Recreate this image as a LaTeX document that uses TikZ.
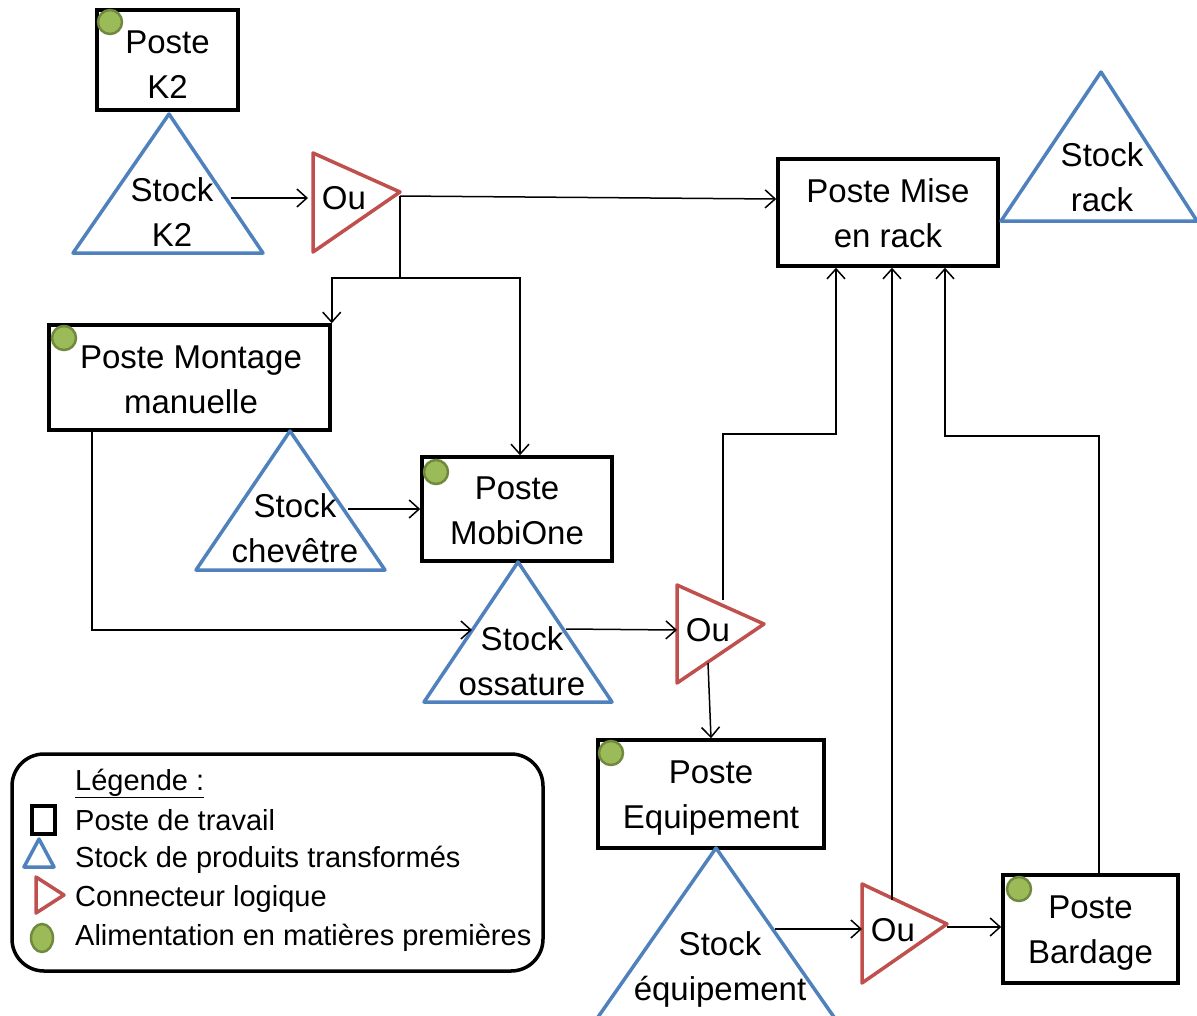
\documentclass[tikz,border=0pt]{standalone}
\usepackage{fontspec}
\setmainfont{Liberation Sans}
\usetikzlibrary{arrows.meta,shapes.geometric}
\definecolor{sblue}{HTML}{4F81BD}
\definecolor{sred}{HTML}{C0504D}
\definecolor{gfill}{HTML}{9BBB59}
\definecolor{gline}{HTML}{71893F}
\begin{document}
\begin{tikzpicture}[x=1pt,y=-1pt,
  box/.style={draw,line width=3.5pt,inner sep=0pt},
  lbl/.style={align=center,inner sep=0pt,font=\fontsize{33}{45}\selectfont},
  leg/.style={anchor=base west,inner sep=0pt,font=\fontsize{29}{35}\selectfont},
  stock/.style={draw=sblue,line width=3.5pt,line join=round},
  logic/.style={draw=sred,line width=3.5pt,line join=round},
  dot/.style={ellipse,fill=gfill,draw=gline,line width=2.5pt,minimum width=24pt,minimum height=24pt,inner sep=0pt},
  arr/.style={line width=1.5pt,-{Straight Barb[length=10pt,width=18pt,line width=1.5pt]}},
  ln/.style={line width=1.5pt}]
\clip (0,0) rectangle (1197,1015);
\useasboundingbox (0,0) rectangle (1197,1015);

% ---------- workstation boxes ----------
\node[box,minimum width=141,minimum height=100] (pk2) at (167.5,60) {};
\node[lbl] (pk2t) at (167.5,65) {Poste\\K2};
\node[box,minimum width=220,minimum height=107] (pmr) at (888,212.5) {};
\node[lbl] (pmrt) at (888,213.5) {Poste Mise\\en rack};
\node[box,minimum width=281,minimum height=105] (pmm) at (189.5,377.5) {};
\node[lbl] (pmmt) at (191,379.5) {Poste Montage\\manuelle};
\node[box,minimum width=190,minimum height=104] (pmo) at (517,509) {};
\node[lbl] (pmot) at (517,511) {Poste\\MobiOne};
\node[box,minimum width=226,minimum height=108] (peq) at (711,794) {};
\node[lbl] (peqt) at (711,798) {Poste\\Equipement};
\node[box,minimum width=175,minimum height=108] (pba) at (1090.5,929) {};
\node[lbl] (pbat) at (1090.5,933) {Poste\\Bardage};

% ---------- raw material dots ----------
\node[dot] (dk2) at (110,22) {};
\node[dot] (dmm) at (64,338) {};
\node[dot] (dmo) at (436,472) {};
\node[dot] (deq) at (611,753) {};
\node[dot] (dba) at (1019,889) {};

% ---------- stock triangles ----------
\draw[stock] (73,253) -- (169,114) -- (263,253) -- cycle;
\node[lbl] (sk2) at (172,212) {Stock\\K2};
\draw[stock] (1001,221) -- (1101,72) -- (1197,221) -- cycle;
\node[lbl] (srack) at (1102,177) {Stock\\rack};
\draw[stock] (196,570) -- (290,431) -- (385,570) -- cycle;
\node[lbl] (sch) at (295,528) {Stock\\chevêtre};
\draw[stock] (424,702) -- (518,562) -- (612,702) -- cycle;
\node[lbl] (sos) at (522,661) {Stock\\ossature};
\draw[stock] (582,1040) -- (716,848) -- (850,1040) -- cycle;
\node[lbl] (seq) at (720,969) {Stock\\équipement};

% ---------- logic connectors ----------
\draw[logic] (313,153) -- (400,192) -- (313,252) -- cycle;
\node[lbl] (ou1) at (344,198) {Ou};
\draw[logic] (677,585) -- (764,624) -- (677,683) -- cycle;
\node[lbl] (ou2) at (708,630) {Ou};
\draw[logic] (862,884) -- (947,924) -- (862,983) -- cycle;
\node[lbl] (ou3) at (893,930) {Ou};

% ---------- ports ----------
\coordinate (sk2o) at (231,198);
\coordinate (ou1i) at (308,198);
\coordinate (ou1o) at (400,196);
\coordinate (ou1b) at (400,278);
\coordinate (schO) at (348,509);
\coordinate (sosI) at (472,630);
\coordinate (sosO) at (566,629);
\coordinate (ou2i) at (677,630);
\coordinate (ou2t) at (723,600);
\coordinate (ou2b) at (708,663);
\coordinate (seqO) at (775,929);
\coordinate (ou3i) at (862,929);
\coordinate (ou3o) at (947,927);
\coordinate (ou3t) at (892,900);

% ---------- flows ----------
\draw[arr] (sk2o) -- (ou1i);
\draw[arr] (ou1o) -- (pmr.west |- 0,199);
\draw[ln] (ou1o) -- (ou1b);
\draw[arr] (ou1b) -| (pmm.north east);
\draw[arr] (ou1b) -| (520,0 |- pmo.north);
\draw[arr] (schO) -- (pmo.west |- schO);
\draw[arr] (92,0 |- pmm.south) -- (92,630) -- (sosI);
\draw[arr] (sosO) -- (ou2i);
\draw[arr] (ou2t) -- (723,434) -- (836,434) -- (836,0 |- pmr.south);
\draw[arr] (ou2b) -- (711,0 |- peq.north);
\draw[arr] (seqO) -- (ou3i);
\draw[arr] (ou3o) -- (pba.west |- ou3o);
\draw[arr] (ou3t) -- (892,0 |- pmr.south);
\draw[arr] (1099,0 |- pba.north) -- (1099,436) -- (945,436) -- (945,0 |- pmr.south);

% ---------- legend ----------
\draw[line width=3.5pt,rounded corners=32pt] (12,754) rectangle (543,971);
\node[leg] (lt) at (75,790) {\underline{Légende :}};
\draw[line width=3.5pt] (32,806) rectangle (55,834);
\node[leg] (l1) at (75,830) {Poste de travail};
\draw[stock] (24,867) -- (39,839) -- (54,867) -- cycle;
\node[leg] (l2) at (75,867) {Stock de produits transformés};
\draw[logic] (36,877) -- (64,895) -- (36,913) -- cycle;
\node[leg] (l3) at (75,906) {Connecteur logique};
\node[dot,minimum width=22pt,minimum height=28pt] (ld) at (42,938) {};
\node[leg] (l4) at (75,945) {Alimentation en matières premières};
\end{tikzpicture}
\end{document}
